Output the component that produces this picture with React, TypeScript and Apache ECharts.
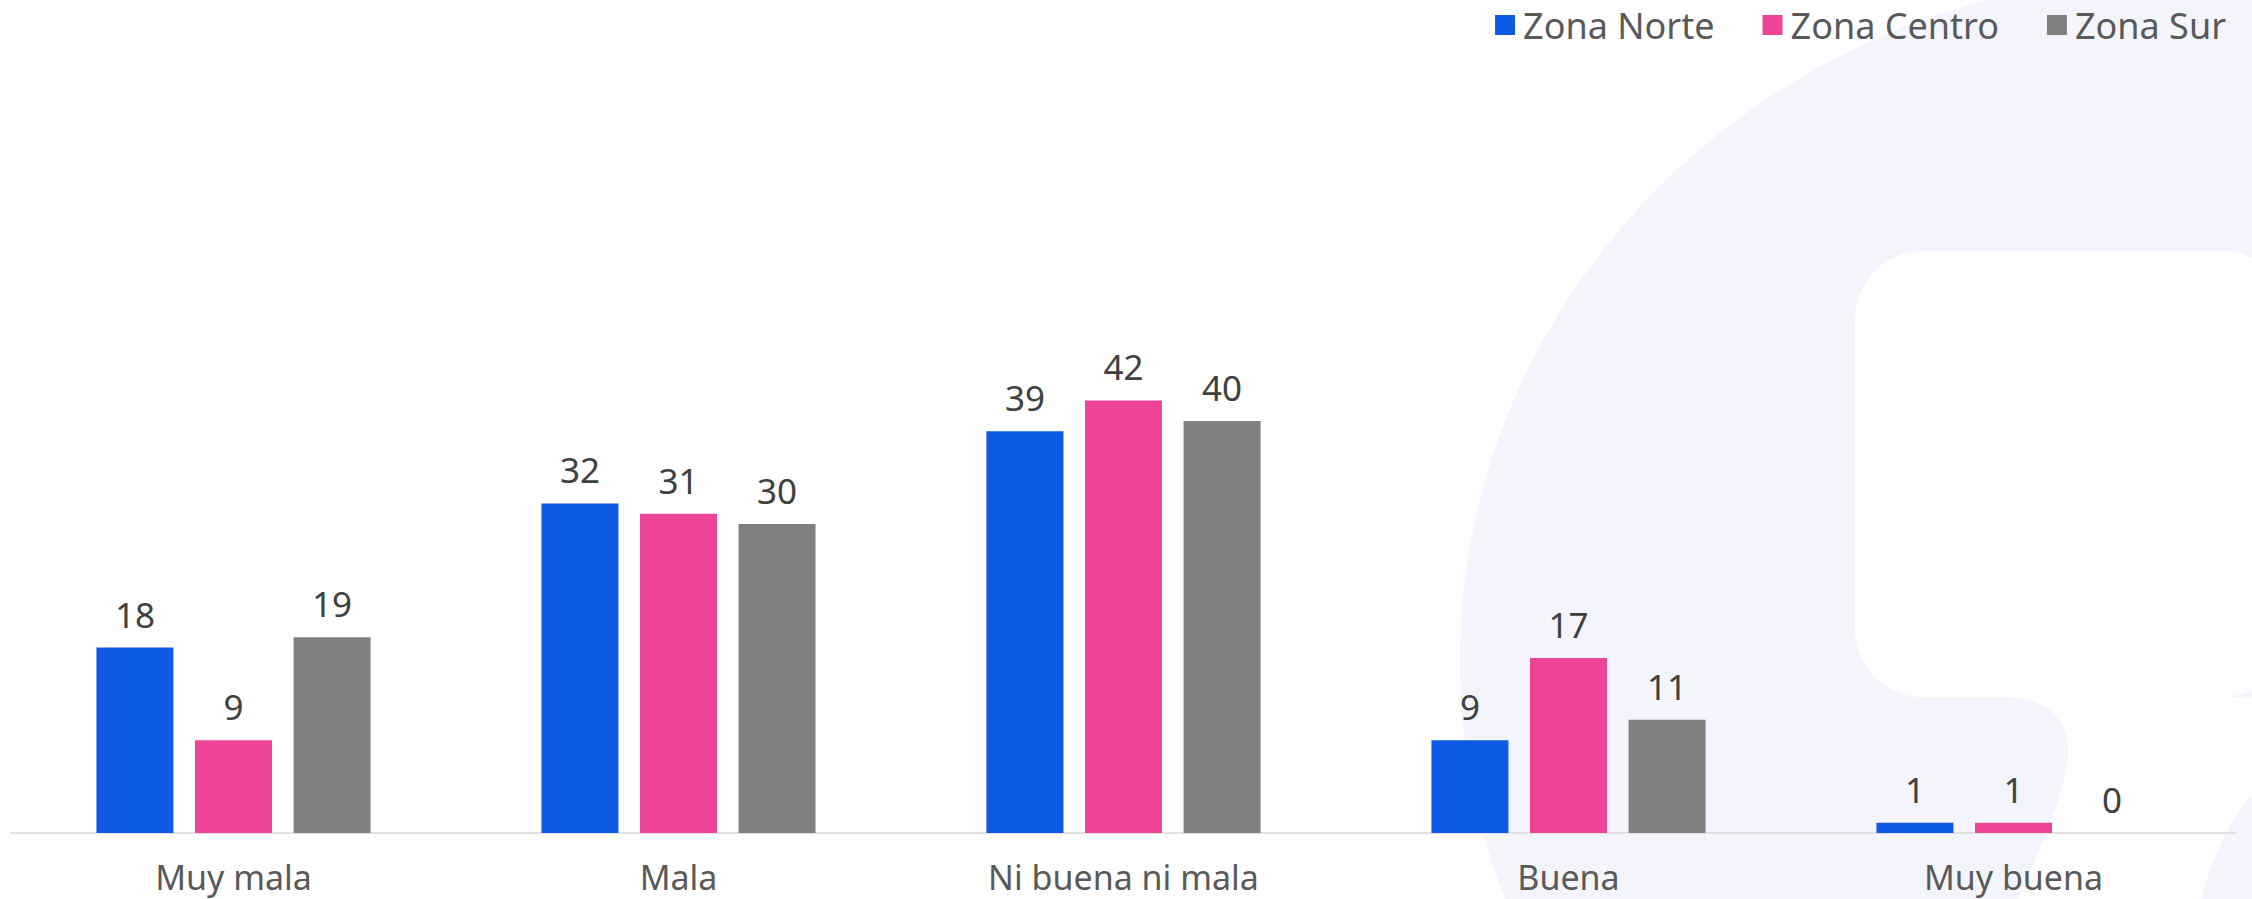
import React, { useEffect, useRef } from "react";
import * as echarts from "echarts";

const categories = ["Muy mala", "Mala", "Ni buena ni mala", "Buena", "Muy buena"];
const seriesNames = ["Zona Norte", "Zona Centro", "Zona Sur"];
const norte = [18, 32, 39, 9, 1];
const centro = [9, 31, 42, 17, 1];
const sur = [19, 30, 40, 11, 0];
const colors = ["#0E5AE5", "#EE4497", "#808080"];

const bandPath =
  "M 2000 697 L 2300 697 L 2300 760 C 2285 770 2265 780 2252 793 C 2228 825 2210 860 2200 905 L 2015 905 C 2040 850 2062 800 2068 760 C 2071 720 2050 697 2000 697 Z";

echarts.graphic.registerShape("logoBand", echarts.graphic.extendPath(bandPath, {}) as any);

export default function App() {
  const ref = useRef<HTMLDivElement>(null);
  useEffect(() => {
    document.body.style.margin = "0";
    const chart = echarts.init(ref.current!, null, { renderer: "svg" });
    const font = "Noto Sans";
    const values = [norte, centro, sur];
    chart.setOption({
      animation: false,
      backgroundColor: "#ffffff",
      textStyle: { fontFamily: font },
      graphic: {
        elements: [
          {
            type: "ellipse",
            z: -10,
            silent: true,
            shape: { cx: 2180, cy: 660, rx: 720, ry: 685 },
            style: { fill: "#F4F5FC" },
          },
          {
            type: "rect",
            z: -10,
            silent: true,
            shape: { x: 1855, y: 251, width: 435, height: 446, r: 68 },
            style: { fill: "#ffffff" },
          },
          {
            type: "logoBand",
            z: -10,
            silent: true,
            x: 0,
            y: 0,
            style: { fill: "#ffffff" },
          },
        ],
      },
      legend: {
        data: seriesNames,
        right: 21,
        top: 2,
        icon: "rect",
        itemWidth: 20,
        itemHeight: 20,
        itemGap: 48,
        textStyle: { fontFamily: font, fontSize: 36, color: "#595959", padding: [0, 0, 0, 3] },
      },
      grid: { left: 11, right: 16, top: 318, bottom: 66, containLabel: false },
      xAxis: {
        type: "category",
        data: categories,
        axisLine: { show: true, lineStyle: { color: "#D9D9D9", width: 1.5 } },
        axisTick: { show: false },
        axisLabel: { fontFamily: font, fontSize: 34, color: "#595959", margin: 27 },
      },
      yAxis: {
        type: "value",
        min: 0,
        max: 50,
        show: false,
        splitLine: { show: false },
      },
      series: seriesNames.map((name, i) => ({
        name,
        type: "bar",
        data: values[i],
        barWidth: 77,
        barGap: "28%",
        itemStyle: { color: colors[i] },
        label: {
          show: true,
          position: "top",
          distance: 16,
          fontFamily: font,
          fontSize: 35,
          color: "#404040",
        },
      })),
    });
    return () => chart.dispose();
  }, []);
  return <div ref={ref} style={{ width: 2252, height: 899 }} />;
}
